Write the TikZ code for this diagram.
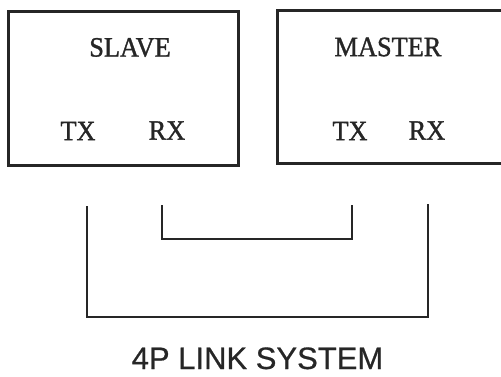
\documentclass[tikz,border=0pt]{standalone}
\usepackage{fontspec}
\setmainfont[FakeStretch=0.94,FakeBold=1.2]{Liberation Serif}
\newfontfamily\capfont[FakeBold=0.6]{Liberation Sans}
\begin{document}
\begin{tikzpicture}[x=1pt,y=-1pt,
  unitbox/.style={draw=black!85,line width=3pt},
  lbl/.style={font=\fontsize{28}{30}\selectfont,text=black!85,inner sep=0pt},
  wire/.style={draw=black!85,line width=2.4pt,line cap=rect}]
\useasboundingbox (0,0) rectangle (501,377);
\clip (0,0) rectangle (501,377);
% boxes
\draw[unitbox] (8.5,12) rectangle (238,165.5);
\draw[unitbox] (277,11) rectangle (520,164);
\node[lbl] (slave) at (130,47.5) {SLAVE};
\node[lbl] (stx) at (78,131) {TX};
\node[lbl] (srx) at (167,130.5) {RX};
\node[lbl] (master) at (388,47) {MASTER};
\node[lbl] (mtx) at (350,131) {TX};
\node[lbl] (mrx) at (427,130.5) {RX};
% wiring
\coordinate (a1) at (87,207);
\coordinate (a2) at (87,317);
\coordinate (a3) at (428,317);
\coordinate (a4) at (428,205);
\coordinate (b1) at (162,206);
\coordinate (b2) at (162,239);
\coordinate (b3) at (352,239);
\coordinate (b4) at (352,206);
\draw[wire] (a1) -- (a2) -- (a3) -- (a4);
\draw[wire] (b1) -- (b2) -- (b3) -- (b4);
\node[font=\capfont\fontsize{31}{33}\selectfont,text=black!85,inner sep=0pt,text depth=0pt,anchor=base] (title) at (257.5,369) {4P LINK SYSTEM};
\end{tikzpicture}
\end{document}
